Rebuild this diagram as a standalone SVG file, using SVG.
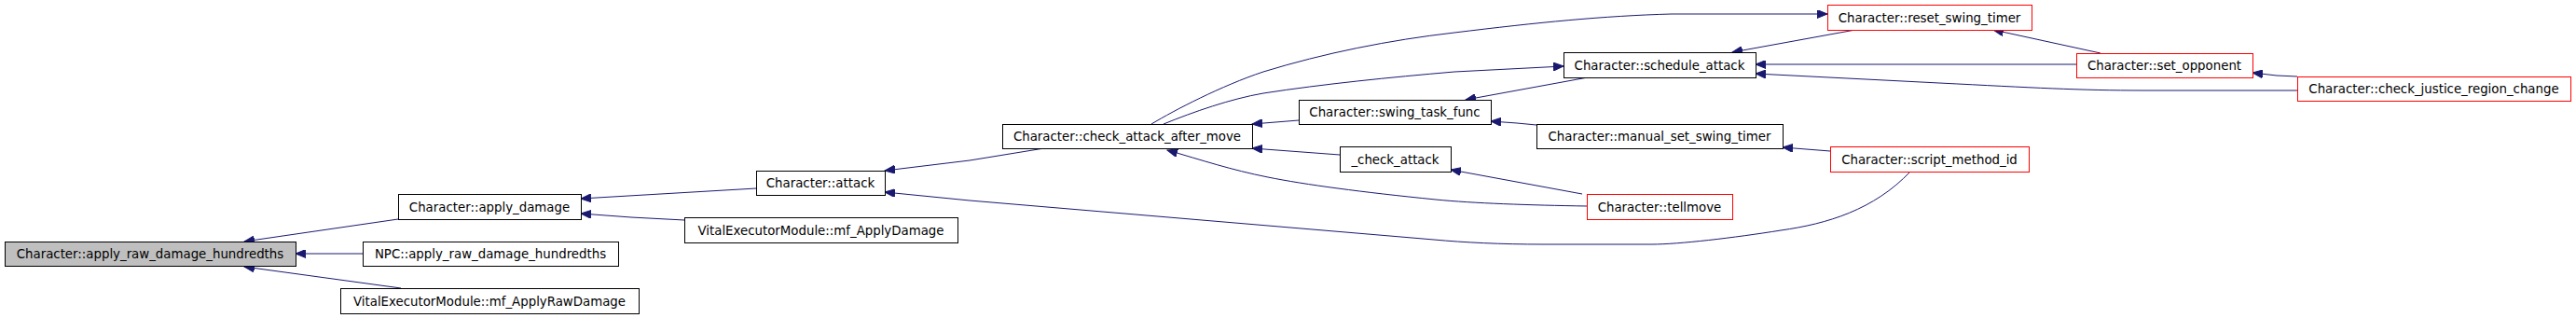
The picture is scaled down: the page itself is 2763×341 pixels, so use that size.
<svg xmlns="http://www.w3.org/2000/svg" width="2763" height="341" viewBox="0 0 2763 341">
<style>
.box{fill:#ffffff;stroke:#000000;stroke-width:1}
.cur{fill:#bfbfbf;stroke:#000000;stroke-width:1}
.red{fill:#ffffff;stroke:#ff0000;stroke-width:1}
.lbl{font-family:"DejaVu Sans","Liberation Sans",sans-serif;font-size:13.33px;fill:#000000;text-anchor:middle}
.e{fill:none;stroke:#191970;stroke-width:1;marker-end:url(#ah)}
</style>
<defs>
<marker id="ah" markerUnits="userSpaceOnUse" markerWidth="12" markerHeight="9" refX="11" refY="4.5" orient="auto">
<path d="M0,0 L11,4.5 L0,9 z" fill="#191970" stroke="#191970" stroke-width="1"/>
</marker>
</defs>
<rect width="2763" height="341" fill="#ffffff"/>
<g id="connectors">
<path class="e" d="M427,235 L262,259"/>
<path class="e" d="M389,272 L317,272"/>
<path class="e" d="M430,309 L262,286"/>
<path class="e" d="M811,202 L623,213"/>
<path class="e" d="M734,236 L677,233 L623,229"/>
<path class="e" d="M1120,159 L1040,172 L949,183"/>
<path class="e" d="M2049,184 C2010,225 1960,240 1910,247 C1860,255 1800,262 1772,262 L1655,262 C1610,262 1570,260 1538,257 L1040,215 L949,206"/>
<path class="e" d="M1393,129 L1343,133"/>
<path class="e" d="M1437,166 L1343,159"/>
<path class="e" d="M1702,221 C1640,220 1580,218 1540,214 C1460,206 1400,198 1360,190 C1320,182 1290,172 1252,161"/>
<path class="e" d="M1697,208 L1556,182"/>
<path class="e" d="M1235,133 C1260,118 1310,92 1355,77 C1420,57 1490,43 1560,35 C1650,24 1720,17 1793,15 L1960,15"/>
<path class="e" d="M1248,133 C1280,120 1320,106 1355,100 C1420,90 1490,83 1560,77 L1677,71"/>
<path class="e" d="M1703,83 L1572,107"/>
<path class="e" d="M1648,134 L1627,132 L1599,130"/>
<path class="e" d="M1963,162 L1912,158"/>
<path class="e" d="M1990,32 L1858,56"/>
<path class="e" d="M2227,69 L1883,69"/>
<path class="e" d="M2464,97 L2300,97 C2230,97 2180,94 2080,89 L1883,79"/>
<path class="e" d="M2253,57 L2138,32"/>
<path class="e" d="M2464,82 L2442,81 L2416,78"/>
</g>
<g id="n_raw"><rect class="cur" x="5.5" y="259.5" width="312" height="26"/><text class="lbl" x="161" y="277">Character::apply_raw_damage_hundredths</text></g>
<g id="n_apply_damage"><rect class="box" x="427.5" y="208.5" width="196" height="27"/><text class="lbl" x="525" y="226.5">Character::apply_damage</text></g>
<g id="n_npc"><rect class="box" x="389.5" y="259.5" width="274" height="26"/><text class="lbl" x="526" y="277">NPC::apply_raw_damage_hundredths</text></g>
<g id="n_vital_raw"><rect class="box" x="365.5" y="309.5" width="320" height="27"/><text class="lbl" x="525" y="327.5">VitalExecutorModule::mf_ApplyRawDamage</text></g>
<g id="n_attack"><rect class="box" x="811.5" y="183.5" width="138" height="26"/><text class="lbl" x="880" y="201">Character::attack</text></g>
<g id="n_vital_dmg"><rect class="box" x="734.5" y="233.5" width="293" height="27"/><text class="lbl" x="880.5" y="251.5">VitalExecutorModule::mf_ApplyDamage</text></g>
<g id="n_check_after"><rect class="box" x="1075.5" y="133.5" width="268" height="26"/><text class="lbl" x="1209" y="151">Character::check_attack_after_move</text></g>
<g id="n_swing_task"><rect class="box" x="1393.5" y="107.5" width="206" height="26"/><text class="lbl" x="1496" y="125">Character::swing_task_func</text></g>
<g id="n_check_attack"><rect class="box" x="1437.5" y="157.5" width="119" height="27"/><text class="lbl" x="1496.5" y="175.5">_check_attack</text></g>
<g id="n_schedule"><rect class="box" x="1677.5" y="56.5" width="206" height="27"/><text class="lbl" x="1780" y="74.5">Character::schedule_attack</text></g>
<g id="n_reset"><rect class="red" x="1960.5" y="5.5" width="219" height="27"/><text class="lbl" x="2069.5" y="23.5">Character::reset_swing_timer</text></g>
<g id="n_manual"><rect class="box" x="1648.5" y="133.5" width="264" height="26"/><text class="lbl" x="1780" y="151">Character::manual_set_swing_timer</text></g>
<g id="n_tellmove"><rect class="red" x="1702.5" y="208.5" width="156" height="27"/><text class="lbl" x="1780" y="226.5">Character::tellmove</text></g>
<g id="n_script"><rect class="red" x="1963.5" y="157.5" width="213" height="27"/><text class="lbl" x="2069.5" y="175.5">Character::script_method_id</text></g>
<g id="n_set_opp"><rect class="red" x="2227.5" y="57.5" width="189" height="26"/><text class="lbl" x="2321.5" y="75">Character::set_opponent</text></g>
<g id="n_justice"><rect class="red" x="2464.5" y="82.5" width="293" height="26"/><text class="lbl" x="2610.5" y="100">Character::check_justice_region_change</text></g>
</svg>
